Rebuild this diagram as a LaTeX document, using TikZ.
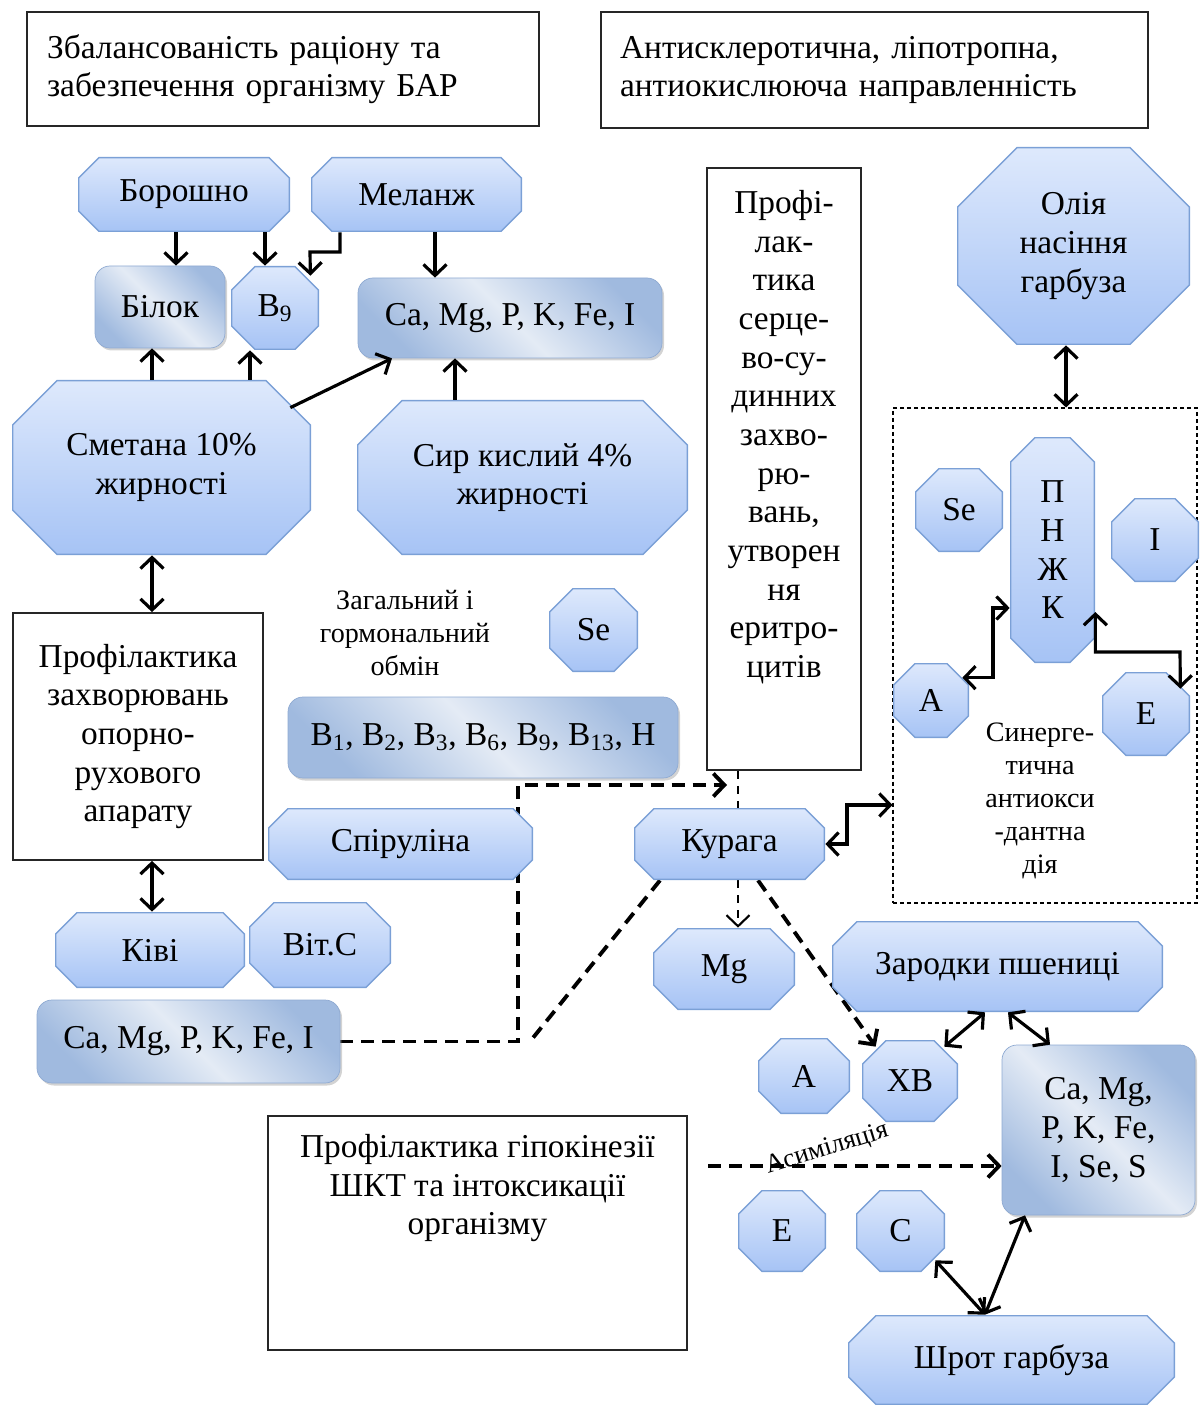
\documentclass[tikz,border=0pt]{standalone}
\usepackage{fontspec}
\setmainfont{Liberation Serif}
\usetikzlibrary{arrows.meta, shadows, backgrounds}

\definecolor{octtop}{HTML}{DEE9FC}
\definecolor{octbot}{HTML}{A6C3F5}
\definecolor{octline}{HTML}{7BA0D6}
\definecolor{boxdark}{HTML}{A0BADF}
\definecolor{boxlight}{HTML}{E4EBF5}
\definecolor{boxline}{HTML}{8FAAD2}

% octagon drawn inside a node, #1 = size of the cut corners
\newcommand\octagonpath[1]{%
    \shadedraw[draw = octline, line width = 0.8pt, top color = octtop,
        bottom color = octbot]
        ([shift={(#1,-0.4pt)}]path picture bounding box.north west)
        -- ([shift={(-#1,-0.4pt)}]path picture bounding box.north east)
        -- ([shift={(-0.4pt,-#1)}]path picture bounding box.north east)
        -- ([shift={(-0.4pt,#1)}]path picture bounding box.south east)
        -- ([shift={(-#1,0.4pt)}]path picture bounding box.south east)
        -- ([shift={(#1,0.4pt)}]path picture bounding box.south west)
        -- ([shift={(0.4pt,#1)}]path picture bounding box.south west)
        -- ([shift={(0.4pt,-#1)}]path picture bounding box.north west)
        -- cycle;}

\begin{document}
\begin{tikzpicture}[
                x = 0.02cm, y = -0.02cm, % one unit = one pixel of the scan
                > = {Straight Barb[length=2.2mm, width=4.6mm]}, % arrow head style
                font = \fontsize{19}{22}\selectfont,
                wh/.style 2 args = {minimum width = #1*0.02cm,
                    minimum height = #2*0.02cm},
                oct/.style = {rectangle, inner sep = 0pt, align = center,
                    path picture = {\octagonpath{#1}}},
                oct/.default = 0.48cm,
                rbox/.style = {rectangle, rounded corners = 0.3cm, draw = boxline,
                    left color = boxdark, right color = boxdark,
                    middle color = boxlight, shading angle = 135,
                    inner sep = 0pt, align = center,
                    drop shadow = {shadow xshift = 0.04cm,
                        shadow yshift = -0.05cm, opacity = 0.35}},
                tbox/.style = {rectangle, draw = black!85, line width = 1pt,
                    fill = white},
                smalltext/.style = {font = \fontsize{16}{18.7}\selectfont,
                    align = center},
                link/.style = {line width = 1.8pt}, % solid arrows
                dlink/.style = {line width = 2.2pt,
                    dash pattern = on 0.26cm off 0.16cm}, % thick dashes
                tlink/.style = {line width = 1.2pt,
                    dash pattern = on 0.16cm off 0.14cm} % thin dashes
            ]

            \useasboundingbox (0,0) rectangle (1199,1405);

            % top text boxes
            \node[tbox, align = left, inner xsep = 0.4cm, text width = 9.44cm,
                minimum height = 2.28cm] (bal) at (283,69)
                {Збалансованість раціону та\\забезпечення організму БАР};
            \node[tbox, align = left, inner xsep = 0.38cm, text width = 10.18cm,
                minimum height = 2.32cm] (anti) at (874.5,70)
                {Антисклеротична, ліпотропна,\\антиокислююча направленність};

            % left column
            \node[oct=0.42cm, wh={212}{75}] (bor) at (184,194.5) {Борошно};
            \node[oct=0.42cm, wh={211}{75}] (mel) at (416.5,194.5) {Меланж};
            \node[rbox, wh={130}{82}] (bil) at (160,307) {Білок};
            \node[oct, wh={88}{84}] (b9) at (275,308) {B\textsubscript{9}};
            \node[rbox, wh={304}{80}] (ca1) at (510,318) {Ca, Mg, P, K, Fe, I};
            \node[oct=0.9cm, wh={299}{175}] (sme) at (161.5,467.5)
                {Сметана 10\%\\жирності};
            \node[oct=0.9cm, wh={331}{155}] (sir) at (522.5,477.5)
                {Сир кислий 4\%\\жирності};
            \node[tbox, align = center, wh={250}{247}] (prof1) at (138,736.5)
                {Профілактика\\захворювань\\опорно-\\рухового\\апарату};
            \node[oct=0.44cm, wh={190}{76}] (kiwi) at (150,950) {Ківі};
            \node[oct=0.5cm, wh={142}{86}] (vitc) at (320,945) {Віт.С};
            \node[rbox, wh={303}{83}] (ca2) at (188.5,1041.5) {Ca, Mg, P, K, Fe, I};

            % middle column
            \node[smalltext] (gorm) at (405,633)
                {Загальний і\\гормональний\\обмін};
            \node[oct, wh={89}{84}] (se1) at (593.5,630) {Se};
            \node[rbox, wh={390}{81}] (bvit) at (483,737.5)
                {B\textsubscript{1}, B\textsubscript{2}, B\textsubscript{3},
                B\textsubscript{6}, B\textsubscript{9}, B\textsubscript{13}, H};
            \node[oct=0.4cm, wh={265}{72}] (spir) at (400.5,844) {Спіруліна};
            \node[tbox, wh={154}{602}, label = {[name = prof2t, anchor = north,
                align = center, yshift = -0.34cm]north:{Профі-\\лак-\\тика\\серце-\\во-су-\\динних\\захво-\\рю-\\вань,\\утворен\\ня\\еритро-\\цитів}}]
                (prof2) at (784,469) {};
            \node[oct=0.4cm, wh={191}{72}] (kur) at (729.5,844) {Курага};
            \node[oct=0.5cm, wh={142}{82}] (mg) at (724,969) {Mg};

            % right column
            \node[oct=1.2cm, wh={233}{198}] (oil) at (1073.5,246)
                {Олія\\насіння\\гарбуза};
            \node[rectangle, draw, line width = 0.6pt,
                dash pattern = on 0.08cm off 0.06cm, wh={304}{495}]
                (syn) at (1045,655.5) {};
            \node[oct=0.5cm, wh={85}{226}] (pnzk) at (1052.5,550) {П\\Н\\Ж\\К};
            \node[oct, wh={88}{84}] (se2) at (959,510) {Se};
            \node[oct, wh={88}{84}] (iod) at (1155,540) {I};
            \node[oct=0.44cm, wh={76}{75}] (a1) at (931,700.5) {A};
            \node[oct, wh={88}{84}] (e1) at (1146,714) {E};
            \node[smalltext] (syntxt) at (1040,801)
                {Синерге-\\тична\\антиокси\\-дантна\\дія};
            \node[oct=0.5cm, wh={331}{91}] (zar) at (997.5,966.5) {Зародки пшениці};

            % bottom part
            \node[oct, wh={96}{82}] (xv) at (910,1081) {ХВ};
            \node[oct=0.46cm, wh={92}{76}] (a2) at (804,1076) {A};
            \node[rbox, wh={193}{170}] (ca3) at (1098.5,1130)
                {Ca, Mg,\\P, K, Fe,\\I, Se, S};
            \node[tbox, wh={419}{234}, label = {[name = prof3t, anchor = north,
                align = center, yshift = -0.26cm]north:{Профілактика гіпокінезії\\ШКТ та інтоксикації\\організму}}]
                (prof3) at (477.5,1233) {};
            \node[oct, wh={88}{82}] (e2) at (782,1231) {E};
            \node[oct, wh={89}{82}] (cvit) at (900.5,1231) {C};
            \node[oct=0.56cm, wh={327}{90}] (shr) at (1011.5,1360) {Шрот гарбуза};
            \node[rotate = 17, font = \fontsize{15}{17}\selectfont] (asym)
                at (827,1149) {Асиміляція};

            % solid arrows
            \draw[link, ->] (bor.south -| 176,0) -- (bil.north -| 176,0);
            \draw[link, ->] (bor.south -| 265,0) -- (b9.north -| 265,0);
            \draw[link, ->] (mel.south -| 340,0) |- (310,252)
                -- ([shift={(-0.18cm,-0.2cm)}]b9.north east);
            \draw[link, ->] (mel.south -| 435,0) -- (ca1.north -| 435,0);
            \draw[link, ->] (sme.north -| 152,0) -- (bil.south -| 152,0);
            \draw[link, ->] (sme.north -| 250,0) -- (b9.south -| 250,0);
            \draw[link, ->] ([shift={(-0.42cm,-0.56cm)}]sme.north east)
                -- (ca1.south -| 392,0);
            \draw[link, ->] (sir.north -| 455,0) -- (ca1.south -| 455,0);
            \draw[link, <->] (sme.south -| 152,0) -- (prof1.north -| 152,0);
            \draw[link, <->] (prof1.south -| 152,0) -- (kiwi.north -| 152,0);
            \draw[link, <->] (oil.south -| 1066,0) -- (syn.north -| 1066,0);
            \draw[link, <->] ([shift={(-0.14cm,-0.3cm)}]a1.north east)
                -| (993,608) -- (pnzk.west |- 0,608);
            \draw[link, <->] (pnzk.east |- 0,612) |- (1180,652)
                -- ([shift={(-0.2cm,-0.34cm)}]e1.north east);
            \draw[link, <->] (kur.east) -| (847,805) -- (syn.west |- 0,805);
            \draw[link, <->] (zar.south -| 985,0)
                -- ([shift={(-0.28cm,-0.14cm)}]xv.north east);
            \draw[link, <->] (zar.south -| 1008,0) -- (ca3.north -| 1050,0);
            \draw[link, <->] (ca3.south -| 1025,0) -- (shr.north -| 985,0);
            \draw[link, <->] ([shift={(-0.2cm,0.24cm)}]cvit.south east)
                -- (shr.north -| 985,0);

            % dashed links, behind the nodes
            \begin{scope}[on background layer]
                \coordinate (bend) at (518,785);
                \coordinate (toprof) at (727,785);
                \coordinate (asy0) at (708,1166);
                \draw[dlink, ->] (ca2.east) -| (bend) -- (toprof);
                \draw[dlink] (kur.south -| 660,0) -- (ca2.east -| 530,0);
                \draw[tlink] (prof2.south -| 738,0) -- (kur.north -| 738,0);
                \draw[tlink, ->] (kur.south -| 738,0) -- (mg.north -| 738,0);
                \draw[dlink, ->] (kur.south -| 758,0)
                    -- ([shift={(0.28cm,-0.14cm)}]xv.north west);
                \draw[dlink, ->] (asy0) -- (ca3.west |- asy0);
            \end{scope}

        \end{tikzpicture}
\end{document}
